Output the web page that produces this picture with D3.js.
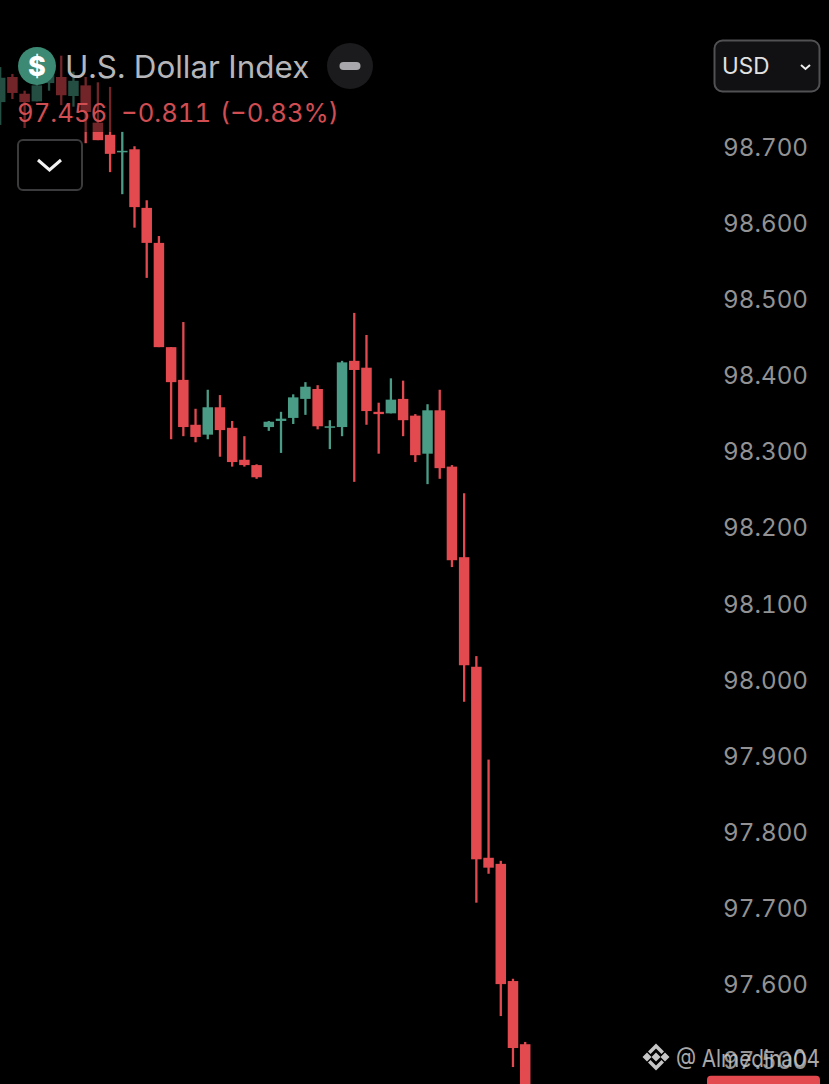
<!DOCTYPE html>
<html>
<head>
<meta charset="utf-8">
<script src="https://cdn.jsdelivr.net/npm/d3@7"></script>
<style>
  html, body { margin: 0; background: #000; overflow: hidden; }
  svg { display: block; font-family: Inter, "Noto Sans", sans-serif; font-variant-numeric: tabular-nums; font-feature-settings: "tnum"; }
</style>
</head>
<body>
<div id="chart"></div>
<script>
// candles, left to right
const opens  = [98.759, 98.792, 98.770, 98.760, 98.784, 98.792, 98.767, 98.781, 98.732, 98.716, 98.693,
  98.697, 98.620, 98.574, 98.437, 98.394, 98.335, 98.322, 98.358, 98.331, 98.289, 98.282,
  98.332, 98.340, 98.344, 98.369, 98.382, 98.332, 98.332, 98.419, 98.410, 98.352, 98.350,
  98.369, 98.347, 98.297, 98.354, 98.280, 98.161, 98.017, 97.766, 97.758, 97.604, 97.521];
const highs  = [98.805, 98.796, 98.774, 98.795, 98.821, 98.820, 98.799, 98.792, 98.785, 98.779, 98.720,
  98.701, 98.630, 98.583, 98.437, 98.470, 98.356, 98.381, 98.374, 98.340, 98.320, 98.283,
  98.340, 98.352, 98.375, 98.391, 98.387, 98.341, 98.419, 98.482, 98.453, 98.364, 98.396,
  98.393, 98.349, 98.362, 98.381, 98.282, 98.245, 98.031, 97.895, 97.762, 97.607, 97.524];
const lows   = [98.729, 98.763, 98.725, 98.760, 98.774, 98.755, 98.753, 98.705, 98.709, 98.667, 98.638,
  98.594, 98.528, 98.437, 98.316, 98.320, 98.312, 98.316, 98.293, 98.280, 98.280, 98.264,
  98.327, 98.298, 98.336, 98.348, 98.329, 98.303, 98.320, 98.260, 98.335, 98.297, 98.350,
  98.320, 98.286, 98.257, 98.264, 98.148, 97.971, 97.707, 97.745, 97.558, 97.491, 97.450];
const closes = [98.791, 98.771, 98.759, 98.781, 98.808, 98.768, 98.787, 98.746, 98.709, 98.691, 98.695,
  98.621, 98.574, 98.437, 98.391, 98.332, 98.319, 98.358, 98.328, 98.286, 98.282, 98.266,
  98.339, 98.343, 98.371, 98.385, 98.333, 98.333, 98.417, 98.407, 98.353, 98.349, 98.368,
  98.341, 98.295, 98.354, 98.278, 98.157, 98.019, 97.764, 97.753, 97.600, 97.516, 97.456];

const tickValues = [98.7, 98.6, 98.5, 98.4, 98.3, 98.2, 98.1, 98.0, 97.9, 97.8, 97.7, 97.6, 97.5];
const lastPrice = 97.456;

const width = 829;
const height = 1084;

const red = '#e24a50';
const green = '#4a9c86';

const x = d3.scaleLinear().domain([0, 43]).range([0.2, 525.2]);
const y = d3.scaleLinear().domain([98.7, 97.5]).range([147, 1060.2]);

const svg = d3.select('#chart')
  .append('svg')
  .attr('width', width)
  .attr('height', height)
  .attr('viewBox', [0, 0, width, height]);

svg.append('rect')
  .attr('width', width)
  .attr('height', height)
  .attr('fill', '#000');

// candles
const candle = svg.append('g')
  .selectAll('g')
  .data(opens)
  .join('g')
    .attr('fill', (d, i) => closes[i] >= d ? green : red);

candle.append('rect')
  .attr('x', (d, i) => x(i) - 1.15)
  .attr('width', 2.3)
  .attr('y', (d, i) => y(highs[i]))
  .attr('height', (d, i) => y(lows[i]) - y(highs[i]));

candle.append('rect')
  .attr('x', (d, i) => x(i) - 5.25)
  .attr('width', 10.5)
  .attr('y', (d, i) => y(Math.max(d, closes[i])))
  .attr('height', (d, i) => Math.max(1.5, Math.abs(y(d) - y(closes[i]))));

// legend backdrop dims the candles behind the header
svg.append('rect')
  .attr('width', 340)
  .attr('height', 132)
  .attr('fill', '#000')
  .attr('opacity', 0.5);

// price axis
const axis = d3.axisRight(y)
  .tickValues(tickValues)
  .tickSize(0)
  .tickPadding(0)
  .tickFormat(d3.format('.3f'));

const axisG = svg.append('g')
  .attr('transform', 'translate(808,0)')
  .call(axis);
axisG.select('.domain').remove();
axisG.selectAll('text')
  .attr('text-anchor', 'end')
  .attr('dy', '0.35em')
  .attr('fill', '#929294')
  .attr('font-size', 24.2)
  .attr('font-family', 'Inter, "Noto Sans", sans-serif');

// last price tag, runs off the bottom of the picture
svg.append('rect')
  .attr('x', 707)
  .attr('y', y(lastPrice) - 18)
  .attr('width', 113)
  .attr('height', 36)
  .attr('rx', 4)
  .attr('fill', red);

// header
const header = svg.append('g');

header.append('circle')
  .attr('cx', 37).attr('cy', 66).attr('r', 19)
  .attr('fill', '#3c8a73');
header.append('text')
  .attr('x', 37).attr('y', 76)
  .attr('text-anchor', 'middle')
  .attr('font-size', 27).attr('font-weight', 800)
  .attr('fill', '#fff')
  .text('$');

header.append('text')
  .attr('x', 65).attr('y', 78)
  .attr('font-size', 31.4)
  .attr('fill', '#b6b6b9')
  .text('U.S. Dollar Index');

header.append('circle')
  .attr('cx', 350).attr('cy', 66).attr('r', 23)
  .attr('fill', '#1b1b1d');
header.append('rect')
  .attr('x', 339.5).attr('y', 62).attr('width', 21).attr('height', 8).attr('rx', 4)
  .attr('fill', '#a8a8ac');

header.selectAll('text.quote')
  .data([['97.456', 17], ['\u22120.811', 121], ['(\u22120.83%)', 220]])
  .join('text')
    .attr('class', 'quote')
    .attr('x', d => d[1])
    .attr('y', 122)
    .attr('font-size', 25.7)
    .attr('fill', '#d04d52')
    .text(d => d[0]);

header.append('rect')
  .attr('x', 18).attr('y', 140).attr('width', 64).attr('height', 50).attr('rx', 5)
  .attr('fill', '#000')
  .attr('stroke', '#3b3b3d').attr('stroke-width', 2);
header.append('path')
  .attr('d', 'M38 160L49.5 170L61 160')
  .attr('fill', 'none')
  .attr('stroke', '#f2f2f2').attr('stroke-width', 3);

// currency selector
const selector = svg.append('g');
selector.append('rect')
  .attr('x', 714.5).attr('y', 40.5).attr('width', 105).attr('height', 51).attr('rx', 8)
  .attr('fill', '#111113')
  .attr('stroke', '#515154').attr('stroke-width', 2);
selector.append('text')
  .attr('x', 722).attr('y', 74)
  .attr('font-size', 22.5)
  .attr('fill', '#e2e2e2')
  .text('USD');
selector.append('path')
  .attr('d', 'M801 65L805.5 69L810 65')
  .attr('fill', 'none')
  .attr('stroke', '#eee').attr('stroke-width', 2);

// watermark
const mark = svg.append('g').attr('fill', '#c6c6c6');
mark.append('path')
  .attr('transform', 'translate(656,1057)')
  .attr('d', 'M0 -4.5L4.5 0L0 4.5L-4.5 0Z M-9 -4.5L-4.5 0L-9 4.5L-13.5 0Z M9 -4.5L13.5 0L9 4.5L4.5 0Z '
    + 'M0 -13.5L8 -5.5L5.5 -3L0 -8.5L-5.5 -3L-8 -5.5Z M0 13.5L-8 5.5L-5.5 3L0 8.5L5.5 3L8 5.5Z');
mark.append('text')
  .attr('x', 676).attr('y', 1067)
  .attr('font-size', 24)
  .attr('textLength', 144)
  .attr('lengthAdjust', 'spacingAndGlyphs')
  .attr('opacity', 0.85)
  .text('@ Almedina04');
</script>
</body>
</html>
